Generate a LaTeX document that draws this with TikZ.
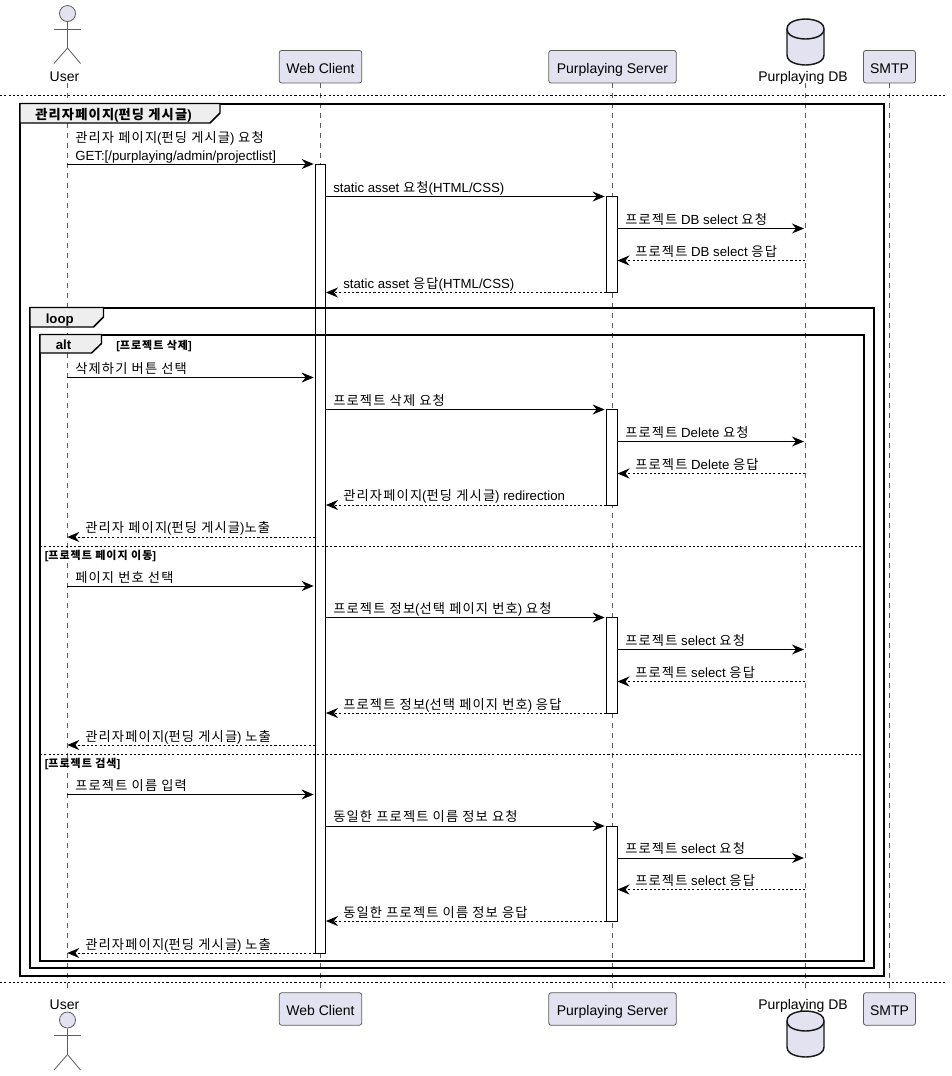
\documentclass[tikz,border=0pt]{standalone}
\usepackage{fontspec}
\setmainfont{Liberation Sans}
\newfontfamily\krfont[LetterSpace=9]{Noto Sans CJK KR}
\newcommand{\kr}[1]{{\krfont #1}}
\usetikzlibrary{arrows.meta,fit,calc}
\definecolor{partfill}{HTML}{E2E2F0}
\definecolor{tabfill}{HTML}{EEEEEE}
\definecolor{partline}{HTML}{181818}
\tikzstyle{participant} = [rectangle, draw=partline!70, line width=.6pt, fill=partfill, rounded corners=1.8pt, %
inner sep=0pt, minimum height=24.4pt, text height=10pt, text depth=0pt, font=\fontsize{10.5}{12}\selectfont]
\tikzstyle{partlabel} = [anchor=base, inner sep=0pt, font=\fontsize{10.5}{12}\selectfont]
\tikzstyle{figure} = [draw=partline!70, line width=.6pt]
\tikzstyle{drum} = [draw=partline, line width=1.1pt, fill=partfill]
\tikzstyle{lifeline} = [draw=partline!70, line width=.5pt, dash pattern=on 3.75pt off 3.75pt]
\tikzstyle{divider} = [draw=black, line width=.6pt, dash pattern=on 1.6pt off 1.6pt]
\tikzstyle{actbar} = [rectangle, draw=black, line width=.75pt, fill=white, inner sep=0pt]
\tikzstyle{framing} = [draw=black, line width=1.5pt]
\tikzstyle{tab} = [draw=black, line width=1.1pt, fill=tabfill]
\tikzstyle{arrow} = [draw=black, line width=.75pt, -{Stealth[length=9pt, width=7.5pt, inset=3pt]}, shorten >=1pt]
\tikzstyle{reply} = [draw=black, line width=.6pt, dash pattern=on 1.6pt off 1.6pt, -{Stealth[length=9pt, width=7.5pt, inset=3pt]}]
\tikzstyle{msg} = [anchor=base west, inner sep=0pt, font=\fontsize{9.92}{13.5}\selectfont]
\tikzstyle{grouptitle} = [anchor=base west, inner sep=0pt, font=\bfseries\fontsize{9.92}{12}\selectfont]
\tikzstyle{guard} = [anchor=base west, inner sep=0pt, font=\bfseries\fontsize{8.25}{10}\selectfont]

\begin{document}
\begin{tikzpicture}[x=.75pt, y=-.75pt]
    \useasboundingbox (0,0) rectangle (951,1076);
    \coordinate (usertop) at (67.3,83);
    \coordinate (userbot) at (67.3,992);
    \coordinate (dbtop) at (805.3,83);
    \coordinate (dbbot) at (805.3,992);
    % participants
    \node[participant, minimum width=61.9pt] (client) at (320.5,66.7) {Web Client};
    \node[participant, minimum width=95.6pt] (server) at (612.5,66.7) {Purplaying Server};
    \node[participant, minimum width=39pt] (smtp) at (889.5,66.7) {SMTP};
    \node[participant, minimum width=61.9pt] (clientb) at (320.5,1009) {Web Client};
    \node[participant, minimum width=95.6pt] (serverb) at (612.5,1009) {Purplaying Server};
    \node[participant, minimum width=39pt] (smtpb) at (889.5,1009) {SMTP};
    \node[partlabel] (userlabel) at (64.5,81) {User};
    \node[partlabel] (dblabel) at (803,81) {Purplaying DB};
    \node[partlabel] (userlabelb) at (64.5,1009) {User};
    \node[partlabel] (dblabelb) at (803,1009) {Purplaying DB};
    % actor and database figures
    \foreach \dy/\name in {0/usertophead, 1006.5/userbothead} {
      \begin{scope}[shift={(0,\dy)}]
        \node[circle, figure, fill=partfill, inner sep=0pt, minimum size=12pt] (\name) at (67.5,13.5) {};
        \path[figure] (\name) -- (67.5,48) -- (54,63.5);
        \path[figure] (67.5,48) -- (80.5,63.5);
        \path[figure] (54,29) -- (80.5,29);
      \end{scope}
    }
    \foreach \dy in {0,992} {
      \begin{scope}[shift={(0,\dy)}]
        \path[drum] (787,29) .. controls (787,19) and (805.5,19) .. (805.5,19) .. controls (805.5,19) and (824,19) .. (824,29)
          -- (824,55) .. controls (824,65) and (805.5,65) .. (805.5,65) .. controls (805.5,65) and (787,65) .. (787,55) -- cycle;
        \path[draw=partline, line width=1.1pt] (787,29) .. controls (787,39) and (805.5,39) .. (805.5,39) .. controls (805.5,39) and (824,39) .. (824,29);
      \end{scope}
    }
    % lifelines
    \path[lifeline] (usertop) -- (userbot);
    \path[lifeline] (client) -- (clientb);
    \path[lifeline] (server) -- (serverb);
    \path[lifeline] (dbtop) -- (dbbot);
    \path[lifeline] (smtp) -- (smtpb);
    % activations
    \node[actbar, fit={(315.5,164.5)(325.5,953)}] (clientbar) {};
    \node[actbar, fit={(606.5,196.5)(617,292.5)}] (serverbar1) {};
    \node[actbar, fit={(606.5,409.5)(617,505)}] (serverbar2) {};
    \node[actbar, fit={(606.5,617.5)(617,713)}] (serverbar3) {};
    \node[actbar, fit={(606.5,826)(617,921)}] (serverbar4) {};
    % dividers
    \coordinate (divstart) at (0,95);
    \coordinate (divend) at (945,95);
    \coordinate (divstartb) at (0,982.3);
    \coordinate (divendb) at (945,982.3);
    \path[divider] (divstart) -- (divend);
    \path[divider] (divstartb) -- (divendb);
    % group frames
    \path[framing] (20,103.5) rectangle (884,975.7);
    \path[framing] (30,307.5) rectangle (874,968.3);
    \path[framing] (40,334.5) rectangle (864,961);
    \path[tab] (20,103.5) -- (220,103.5) -- (220,113) -- (210,123) -- (20,123) -- cycle;
    \path[tab] (30,307.5) -- (103.5,307.5) -- (103.5,317) -- (93.5,327) -- (30,327) -- cycle;
    \path[tab] (40,334.5) -- (101.5,334.5) -- (101.5,343.5) -- (91.5,353) -- (40,353) -- cycle;
    \node[grouptitle] (frametitle) at (35,119) {\kr{관리자페이지}(\kr{펀딩 게시글})};
    \node[grouptitle] (looptitle) at (45.5,323) {loop};
    \node[grouptitle] (alttitle) at (55.5,349) {alt};
    \node[guard] (guard1) at (116,349) {[\kr{프로젝트 삭제}]};
    \path[divider] (40,546.5) -- (864,546.5);
    \node[guard] (guard2) at (44.5,559) {[\kr{프로젝트 페이지 이동}]};
    \path[divider] (40,754) -- (864,754);
    \node[guard] (guard3) at (44.5,767) {[\kr{프로젝트 검색}]};
    % page request
    \node[msg, align=left] (m1) at (75,160.5) {\kr{관리자 페이지}(\kr{펀딩 게시글}) \kr{요청}\\GET:[/purplaying/admin/projectlist]};
    \path[arrow] (usertop |- 0,164) -- (clientbar.west |- 0,164);
    \node[msg] (m2) at (333,192) {static asset \kr{요청}(HTML/CSS)};
    \path[arrow] (clientbar.east |- 0,196.5) -- (serverbar1.west |- 0,196.5);
    \node[msg] (m3) at (625,224) {\kr{프로젝트} DB select \kr{요청}};
    \path[arrow] (serverbar1.east |- 0,228.5) -- (dbtop |- 0,228.5);
    \node[msg] (m4) at (635,256) {\kr{프로젝트} DB select \kr{응답}};
    \path[reply] (dbtop |- 0,260.5) -- (serverbar1.east |- 0,260.5);
    \node[msg] (m5) at (343,288) {static asset \kr{응답}(HTML/CSS)};
    \path[reply] (serverbar1.west |- 0,292.5) -- (clientbar.east |- 0,292.5);
    % delete branch
    \node[msg] (m6) at (75,373) {\kr{삭제하기 버튼 선택}};
    \path[arrow] (usertop |- 0,377.5) -- (clientbar.west |- 0,377.5);
    \node[msg] (m7) at (333,405) {\kr{프로젝트 삭제 요청}};
    \path[arrow] (clientbar.east |- 0,409.5) -- (serverbar2.west |- 0,409.5);
    \node[msg] (m8) at (625,437) {\kr{프로젝트} Delete \kr{요청}};
    \path[arrow] (serverbar2.east |- 0,441.5) -- (dbtop |- 0,441.5);
    \node[msg] (m9) at (635,469) {\kr{프로젝트} Delete \kr{응답}};
    \path[reply] (dbtop |- 0,473.5) -- (serverbar2.east |- 0,473.5);
    \node[msg] (m10) at (343,500) {\kr{관리자페이지}(\kr{펀딩 게시글}) redirection};
    \path[reply] (serverbar2.west |- 0,505) -- (clientbar.east |- 0,505);
    \node[msg] (m11) at (85,532) {\kr{관리자 페이지}(\kr{펀딩 게시글})\kr{노출}};
    \path[reply] (clientbar.west |- 0,537) -- (usertop |- 0,537);
    % page move branch
    \node[msg] (m12) at (75,582) {\kr{페이지 번호 선택}};
    \path[arrow] (usertop |- 0,586) -- (clientbar.west |- 0,586);
    \node[msg] (m13) at (333,613) {\kr{프로젝트 정보}(\kr{선택 페이지 번호}) \kr{요청}};
    \path[arrow] (clientbar.east |- 0,617.5) -- (serverbar3.west |- 0,617.5);
    \node[msg] (m14) at (625,645) {\kr{프로젝트} select \kr{요청}};
    \path[arrow] (serverbar3.east |- 0,649.5) -- (dbtop |- 0,649.5);
    \node[msg] (m15) at (635,677) {\kr{프로젝트} select \kr{응답}};
    \path[reply] (dbtop |- 0,681.5) -- (serverbar3.east |- 0,681.5);
    \node[msg] (m16) at (343,709) {\kr{프로젝트 정보}(\kr{선택 페이지 번호}) \kr{응답}};
    \path[reply] (serverbar3.west |- 0,713) -- (clientbar.east |- 0,713);
    \node[msg] (m17) at (85,741) {\kr{관리자페이지}(\kr{펀딩 게시글}) \kr{노출}};
    \path[reply] (clientbar.west |- 0,745) -- (usertop |- 0,745);
    % search branch
    \node[msg] (m18) at (75,790) {\kr{프로젝트 이름 입력}};
    \path[arrow] (usertop |- 0,794.5) -- (clientbar.west |- 0,794.5);
    \node[msg] (m19) at (333,821) {\kr{동일한 프로젝트 이름 정보 요청}};
    \path[arrow] (clientbar.east |- 0,826) -- (serverbar4.west |- 0,826);
    \node[msg] (m20) at (625,853) {\kr{프로젝트} select \kr{요청}};
    \path[arrow] (serverbar4.east |- 0,858) -- (dbtop |- 0,858);
    \node[msg] (m21) at (635,885) {\kr{프로젝트} select \kr{응답}};
    \path[reply] (dbtop |- 0,889.5) -- (serverbar4.east |- 0,889.5);
    \node[msg] (m22) at (343,917) {\kr{동일한 프로젝트 이름 정보 응답}};
    \path[reply] (serverbar4.west |- 0,921) -- (clientbar.east |- 0,921);
    \node[msg] (m23) at (85,949) {\kr{관리자페이지}(\kr{펀딩 게시글}) \kr{노출}};
    \path[reply] (clientbar.west |- 0,953) -- (usertop |- 0,953);
  \end{tikzpicture}
\end{document}
